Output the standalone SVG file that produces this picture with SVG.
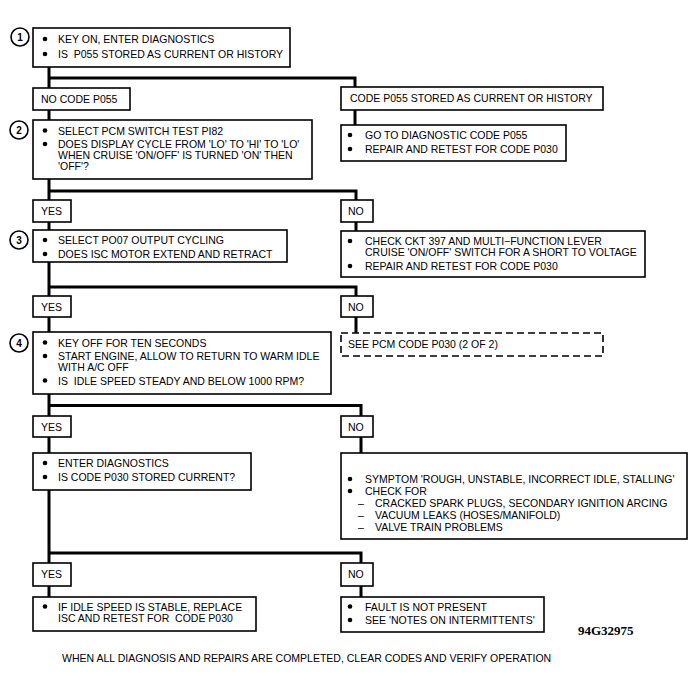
<svg xmlns="http://www.w3.org/2000/svg" width="700" height="686" viewBox="0 0 700 686">
<style>
text{font-family:"Liberation Sans",Arial,sans-serif;font-size:10.5px;fill:#000;white-space:pre}
.box{fill:#fff;stroke:#000;stroke-width:1.6}
.dash{fill:#fff;stroke:#000;stroke-width:1.6;stroke-dasharray:7,4}
.conn{fill:none;stroke:#000;stroke-width:3}
.num{fill:#fff;stroke:#000;stroke-width:1.6}
.numt{font-size:10px;text-anchor:middle;font-weight:bold}
.id{font-family:"Liberation Serif","Times New Roman",serif;font-size:13px;font-weight:bold}
</style>
<defs><circle id="b" r="2.3" fill="#000"/></defs>
<rect width="700" height="686" fill="#fff"/>
<g id="connectors">
<path class="conn" d="M49,67 V88 M49,78 H355 V87"/>
<path class="conn" d="M49,110 V120 M355,110 V125"/>
<path class="conn" d="M49,179 V200 M49,191 H356 V200"/>
<path class="conn" d="M49,222 V230 M356,222 V231"/>
<path class="conn" d="M49,262 V296 M49,287 H356 V296"/>
<path class="conn" d="M49,317 V332 M356,317 V333"/>
<path class="conn" d="M49,394 V416 M49,405.5 H361 V416"/>
<path class="conn" d="M49,437 V453 M361,437 V453"/>
<path class="conn" d="M49,490 V563 M49,553 H361 V563"/>
<path class="conn" d="M49,586 V597 M361,586 V597"/>
</g>
<g id="step1">
<rect class="box" x="33" y="28" width="257" height="39"/>
<circle class="num" cx="20" cy="37" r="9"/><text class="numt" x="20" y="40.5">1</text>
<use href="#b" x="45" y="39"/><text x="58" y="43">KEY ON, ENTER DIAGNOSTICS</text>
<use href="#b" x="45" y="54"/><text x="58" y="58">IS  P055 STORED AS CURRENT OR HISTORY</text>
</g>
<g id="nocode"><rect class="box" x="33" y="88" width="97" height="22"/><text x="41" y="102.5">NO CODE P055</text></g>
<g id="codestored"><rect class="box" x="341" y="87" width="262" height="23"/><text x="350" y="102">CODE P055 STORED AS CURRENT OR HISTORY</text></g>
<g id="goto">
<rect class="box" x="341" y="125" width="225" height="36"/>
<use href="#b" x="350" y="135"/><text x="365" y="139">GO TO DIAGNOSTIC CODE P055</text>
<use href="#b" x="350" y="149"/><text x="365" y="153">REPAIR AND RETEST FOR CODE P030</text>
</g>
<g id="step2">
<rect class="box" x="33" y="120" width="279" height="59"/>
<circle class="num" cx="19" cy="130" r="9"/><text class="numt" x="19" y="133.5">2</text>
<use href="#b" x="45" y="130.5"/><text x="58" y="134.5">SELECT PCM SWITCH TEST PI82</text>
<use href="#b" x="45" y="144"/><text x="58" y="148">DOES DISPLAY CYCLE FROM 'LO' TO 'HI' TO 'LO'</text>
<text x="58" y="159">WHEN CRUISE 'ON/OFF' IS TURNED 'ON' THEN</text>
<text x="58" y="170">'OFF'?</text>
</g>
<g id="yes1"><rect class="box" x="33" y="200" width="38" height="22"/><text x="41" y="214.5">YES</text></g>
<g id="no1"><rect class="box" x="341" y="200" width="32" height="22"/><text x="348" y="214.5">NO</text></g>
<g id="step3">
<rect class="box" x="33" y="230" width="254" height="32"/>
<circle class="num" cx="19" cy="240" r="9"/><text class="numt" x="19" y="243.5">3</text>
<use href="#b" x="45" y="240"/><text x="58" y="244">SELECT PO07 OUTPUT CYCLING</text>
<use href="#b" x="45" y="254"/><text x="58" y="258">DOES ISC MOTOR EXTEND AND RETRACT</text>
</g>
<g id="checkckt">
<rect class="box" x="341" y="231" width="304" height="46"/>
<use href="#b" x="350" y="241"/><text x="365" y="245">CHECK CKT 397 AND MULTI−FUNCTION LEVER</text>
<text x="365" y="256">CRUISE 'ON/OFF' SWITCH FOR A SHORT TO VOLTAGE</text>
<use href="#b" x="350" y="266"/><text x="365" y="270">REPAIR AND RETEST FOR CODE P030</text>
</g>
<g id="yes2"><rect class="box" x="33" y="296" width="38" height="21"/><text x="41" y="310.5">YES</text></g>
<g id="no2"><rect class="box" x="341" y="296" width="32" height="21"/><text x="348" y="310.5">NO</text></g>
<g id="step4">
<rect class="box" x="33" y="332" width="298" height="62"/>
<circle class="num" cx="19" cy="343" r="9"/><text class="numt" x="19" y="346.5">4</text>
<use href="#b" x="45" y="342.5"/><text x="58" y="346.5">KEY OFF FOR TEN SECONDS</text>
<use href="#b" x="45" y="356"/><text x="58" y="360">START ENGINE, ALLOW TO RETURN TO WARM IDLE</text>
<text x="58" y="371">WITH A/C OFF</text>
<use href="#b" x="45" y="380.5"/><text x="58" y="384.5">IS  IDLE SPEED STEADY AND BELOW 1000 RPM?</text>
</g>
<g id="seepcm"><rect class="dash" x="341" y="333" width="262" height="23"/><text x="348" y="348">SEE PCM CODE P030 (2 OF 2)</text></g>
<g id="yes3"><rect class="box" x="33" y="416" width="38" height="21"/><text x="41" y="430.5">YES</text></g>
<g id="no3"><rect class="box" x="341" y="416" width="32" height="21"/><text x="348" y="430.5">NO</text></g>
<g id="step5">
<rect class="box" x="33" y="453" width="218" height="37"/>
<use href="#b" x="45" y="463"/><text x="58" y="467">ENTER DIAGNOSTICS</text>
<use href="#b" x="45" y="477"/><text x="58" y="481">IS CODE P030 STORED CURRENT?</text>
</g>
<g id="symptom">
<rect class="box" x="341" y="453" width="346" height="86"/>
<use href="#b" x="350" y="479"/><text x="365" y="483">SYMPTOM 'ROUGH, UNSTABLE, INCORRECT IDLE, STALLING'</text>
<use href="#b" x="350" y="491"/><text x="365" y="495">CHECK FOR</text>
<text x="358" y="507">–</text><text x="375" y="507">CRACKED SPARK PLUGS, SECONDARY IGNITION ARCING</text>
<text x="358" y="519">–</text><text x="375" y="519">VACUUM LEAKS (HOSES/MANIFOLD)</text>
<text x="358" y="531">–</text><text x="375" y="531">VALVE TRAIN PROBLEMS</text>
</g>
<g id="yes4"><rect class="box" x="33" y="563" width="38" height="23"/><text x="41" y="578">YES</text></g>
<g id="no4"><rect class="box" x="341" y="563" width="32" height="23"/><text x="348" y="578">NO</text></g>
<g id="replace">
<rect class="box" x="33" y="597" width="223" height="34"/>
<use href="#b" x="45" y="606.5"/><text x="58" y="610.5">IF IDLE SPEED IS STABLE, REPLACE</text>
<text x="58" y="621.5">ISC AND RETEST FOR  CODE P030</text>
</g>
<g id="fault">
<rect class="box" x="341" y="597" width="203" height="35"/>
<use href="#b" x="350" y="606.5"/><text x="365" y="610.5">FAULT IS NOT PRESENT</text>
<use href="#b" x="350" y="620"/><text x="365" y="624">SEE 'NOTES ON INTERMITTENTS'</text>
</g>
<text class="id" x="578" y="635">94G32975</text>
<text x="62" y="662">WHEN ALL DIAGNOSIS AND REPAIRS ARE COMPLETED, CLEAR CODES AND VERIFY OPERATION</text>
</svg>
